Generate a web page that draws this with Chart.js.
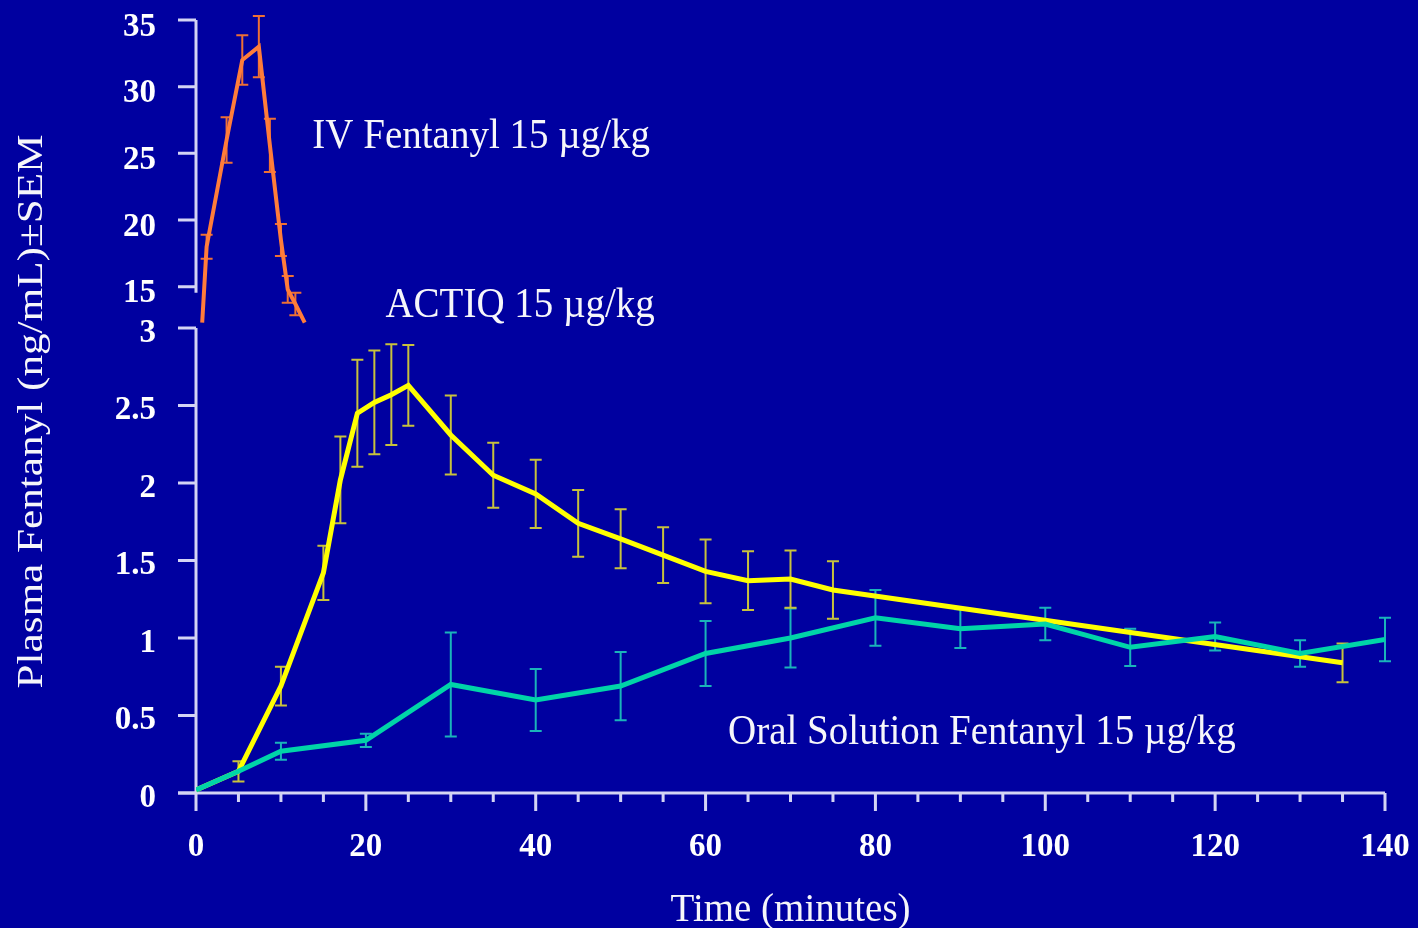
<!DOCTYPE html>
<html>
<head>
<meta charset="utf-8">
<title>Plasma Fentanyl</title>
<script src="https://cdn.jsdelivr.net/npm/chart.js@4.4.1/dist/chart.umd.min.js"></script>
<style>
  html, body { margin: 0; padding: 0; background: #0000A0; }
  #wrap { width: 1418px; height: 928px; }
</style>
</head>
<body>
<div id="wrap"><canvas id="PkChart"></canvas></div>
<script>
const SERIF = "'Liberation Serif', 'Times New Roman', serif";

// IV Fentanyl 15 ug/kg (upper, broken part of the axis)
const ivTime = [0.73, 1.25, 3.6, 5.45, 7.4, 8.7, 10.0, 10.8, 11.7, 12.8];
const ivConc = [12.3, 18.0, 26.0, 32.0, 33.0, 25.6, 18.5, 14.8, 13.7, 12.3];
const ivSem  = [null, 0.9, 1.7, 1.85, 2.3, 2.0, 1.2, 1.0, 0.85, null];

// ACTIQ 15 ug/kg
const actiqTime = [0, 5, 10, 15, 17, 19, 21, 23, 25, 30, 35, 40, 45, 50, 55, 60, 65, 70, 75, 135];
const actiqConc = [0.02, 0.14, 0.69, 1.42, 2.02, 2.45, 2.52, 2.57, 2.63, 2.31, 2.05, 1.93, 1.74, 1.64, 1.535, 1.43, 1.37, 1.38, 1.31, 0.84];
const actiqSem  = [null, 0.065, 0.125, 0.175, 0.28, 0.345, 0.335, 0.325, 0.26, 0.255, 0.21, 0.22, 0.215, 0.19, 0.18, 0.205, 0.19, 0.185, 0.185, 0.125];

// Oral Solution Fentanyl 15 ug/kg
const oralTime = [0, 5, 10, 20, 30, 40, 50, 60, 70, 80, 90, 100, 110, 120, 130, 140];
const oralConc = [0.02, 0.14, 0.27, 0.34, 0.70, 0.60, 0.69, 0.90, 1.00, 1.13, 1.06, 1.09, 0.94, 1.01, 0.90, 0.99];
const oralSem  = [null, null, 0.055, 0.043, 0.335, 0.20, 0.22, 0.21, 0.19, 0.18, 0.125, 0.105, 0.12, 0.09, 0.085, 0.14];

const xTicks = [0, 20, 40, 60, 80, 100, 120, 140];
const xMinorTicks = [5, 10, 15, 25, 30, 35, 45, 50, 55, 65, 70, 75, 85, 90, 95, 105, 110, 115, 125, 130, 135];
const yLowTicks = [0, 0.5, 1, 1.5, 2, 2.5, 3];
const yHighTicks = [15, 20, 25, 30, 35];

const xTitle = 'Time (minutes)';
const yTitle = 'Plasma Fentanyl (ng/mL)\u00B1SEM';
const ivLabel = 'IV Fentanyl 15 \u00B5g/kg';
const actiqLabel = 'ACTIQ 15 \u00B5g/kg';
const oralLabel = 'Oral Solution Fentanyl 15 \u00B5g/kg';

const BG_COLOR = '#0000A0';
const AXIS_COLOR = '#D4D4F4';
const TEXT_COLOR = '#F6F6FA';

function ToPoints(times, values)
{
    var points = [];
    for (let i = 0; i < times.length; i++)
    {
        points[i] = { x: times[i], y: values[i] };
    }
    return points;
}

function SetTicks(values)
{
    return function (scale) {
        scale.ticks = values.map(v => ({ value: v }));
    };
}

// fixed box sizes, no extra padding for labels hanging over the ends
function FixWidth(w)
{
    return function (scale) {
        scale.width = w;
        scale.paddingTop = 0;
        scale.paddingBottom = 0;
    };
}

function FixHeight(h)
{
    return function (scale) {
        scale.height = h;
        scale.paddingLeft = 0;
        scale.paddingRight = 0;
    };
}

// background
const BackgroundPlugin = {
    id: 'background',
    beforeDraw(chart) {
        const ctx = chart.ctx;
        ctx.save();
        ctx.fillStyle = BG_COLOR;
        ctx.fillRect(0, 0, chart.width, chart.height);
        ctx.restore();
    }
};

// broken y axis + x axis with long/short tick marks
const AxesPlugin = {
    id: 'axes',
    beforeDatasetsDraw(chart) {
        const ctx = chart.ctx;
        const xs = chart.scales.x;
        const yLow = chart.scales.y;
        const yHigh = chart.scales.yTop;
        const left = chart.chartArea.left;
        const y0 = yLow.getPixelForValue(0);

        ctx.save();
        ctx.strokeStyle = AXIS_COLOR;
        ctx.lineWidth = 3;
        ctx.lineCap = 'butt';

        // x axis line
        ctx.beginPath();
        ctx.moveTo(left - 18, y0);
        ctx.lineTo(xs.getPixelForValue(140), y0);
        ctx.stroke();

        ctx.beginPath();
        xTicks.forEach(v => {
            const px = xs.getPixelForValue(v);
            ctx.moveTo(px, y0);
            ctx.lineTo(px, y0 + 18);
        });
        xMinorTicks.forEach(v => {
            const px = xs.getPixelForValue(v);
            ctx.moveTo(px, y0);
            ctx.lineTo(px, y0 + 9);
        });
        ctx.stroke();

        // lower y axis
        ctx.beginPath();
        ctx.moveTo(left, y0);
        ctx.lineTo(left, yLow.getPixelForValue(3));
        yLowTicks.forEach(v => {
            const py = yLow.getPixelForValue(v);
            ctx.moveTo(left, py);
            ctx.lineTo(left - 18, py);
        });
        ctx.stroke();

        // upper y axis
        ctx.beginPath();
        ctx.moveTo(left, yHigh.getPixelForValue(15) + 6);
        ctx.lineTo(left, yHigh.getPixelForValue(35));
        yHighTicks.forEach(v => {
            const py = yHigh.getPixelForValue(v);
            ctx.moveTo(left, py);
            ctx.lineTo(left - 18, py);
        });
        ctx.stroke();
        ctx.restore();
    }
};

const ErrorBarPlugin = {
    id: 'errorBars',
    beforeDatasetsDraw(chart) {
        const ctx = chart.ctx;
        chart.data.datasets.forEach((ds, i) => {
            const meta = chart.getDatasetMeta(i);
            const xs = meta.xScale;
            const ys = meta.yScale;
            ctx.save();
            ctx.strokeStyle = ds.errorColor;
            ctx.lineWidth = 2;
            ds.data.forEach((p, j) => {
                const e = ds.sem[j];
                if (e == null) return;
                const px = xs.getPixelForValue(p.x);
                const top = ys.getPixelForValue(p.y + e);
                const bot = ys.getPixelForValue(p.y - e);
                ctx.beginPath();
                ctx.moveTo(px, top);
                ctx.lineTo(px, bot);
                ctx.moveTo(px - 6, top);
                ctx.lineTo(px + 6, top);
                ctx.moveTo(px - 6, bot);
                ctx.lineTo(px + 6, bot);
                ctx.stroke();
            });
            ctx.restore();
        });
    }
};

function DrawText(ctx, text, x, y, size, sx, sy, rotate)
{
    ctx.save();
    ctx.translate(x, y);
    if (rotate) ctx.rotate(rotate);
    ctx.scale(sx, sy);
    ctx.font = size + 'px ' + SERIF;
    ctx.fillStyle = TEXT_COLOR;
    ctx.textBaseline = 'alphabetic';
    ctx.textAlign = 'left';
    ctx.fillText(text, 0, 0);
    ctx.restore();
}

// series labels and axis titles
const LabelsPlugin = {
    id: 'labels',
    afterDraw(chart) {
        const ctx = chart.ctx;
        const xs = chart.scales.x;
        const yLow = chart.scales.y;
        const yHigh = chart.scales.yTop;
        const area = chart.chartArea;

        DrawText(ctx, ivLabel, xs.getPixelForValue(13.7), yHigh.getPixelForValue(25.4), 39, 1, 1.1);
        DrawText(ctx, actiqLabel, xs.getPixelForValue(22.3), yHigh.getPixelForValue(12.75), 39, 1, 1.1);
        DrawText(ctx, oralLabel, xs.getPixelForValue(62.65), yLow.getPixelForValue(0.316), 39, 1, 1.1);

        // x title
        ctx.save();
        ctx.font = '39px ' + SERIF;
        const w = ctx.measureText(xTitle).width;
        ctx.restore();
        DrawText(ctx, xTitle, (area.left + area.right) / 2 - w / 2, 921, 39, 1, 1);

        // y title, rotated
        ctx.save();
        ctx.font = '36px ' + SERIF;
        const wy = ctx.measureText(yTitle).width * 1.2;
        ctx.restore();
        DrawText(ctx, yTitle, 42, (area.top + area.bottom) / 2 + 5 + wy / 2, 36, 1.2, 1, -Math.PI / 2);
    }
};

const TickFont = { family: SERIF, size: 33, weight: 'bold' };
const PlainLabel = (v) => String(v);

const ChartData = {
    datasets: [
        {
            label: ivLabel,
            data: ToPoints(ivTime, ivConc),
            sem: ivSem,
            yAxisID: 'yTop',
            borderColor: '#FF7C3A',
            errorColor: '#EE7034',
            borderWidth: 4,
            pointRadius: 0,
            tension: 0
        },
        {
            label: oralLabel,
            data: ToPoints(oralTime, oralConc),
            sem: oralSem,
            yAxisID: 'y',
            borderColor: '#00D4A8',
            errorColor: '#1AB4BA',
            borderWidth: 5,
            pointRadius: 0,
            tension: 0
        },
        {
            label: actiqLabel,
            data: ToPoints(actiqTime, actiqConc),
            sem: actiqSem,
            yAxisID: 'y',
            borderColor: '#FFFF00',
            errorColor: '#C8C23C',
            borderWidth: 5,
            pointRadius: 0,
            tension: 0
        }
    ]
};

const ChartOption = {
    responsive: true,
    maintainAspectRatio: false,
    animation: false,
    layout: { padding: { top: 20, right: 33, bottom: 0, left: 0 } },
    plugins: {
        legend: { display: false },
        tooltip: { enabled: false }
    },
    scales: {
        x: {
            type: 'linear',
            min: 0,
            max: 140,
            afterBuildTicks: SetTicks(xTicks),
            afterFit: FixHeight(135),
            grid: { display: false, drawTicks: false },
            border: { display: false },
            ticks: { color: '#FFFFFF', font: TickFont, padding: 35, autoSkip: false, maxRotation: 0, callback: PlainLabel }
        },
        y: {
            type: 'linear',
            position: 'left',
            min: 0,
            max: 3,
            stack: 'conc',
            stackWeight: 465,
            afterBuildTicks: SetTicks(yLowTicks),
            afterFit: FixWidth(196),
            grid: { display: false, drawTicks: false },
            border: { display: false },
            ticks: { color: '#FFFFFF', font: TickFont, padding: 40, labelOffset: 5, callback: PlainLabel }
        },
        yTop: {
            type: 'linear',
            position: 'left',
            min: 11.9,
            max: 35,
            stack: 'conc',
            stackWeight: 308,
            afterBuildTicks: SetTicks(yHighTicks),
            afterFit: FixWidth(196),
            grid: { display: false, drawTicks: false },
            border: { display: false },
            ticks: { color: '#FFFFFF', font: TickFont, padding: 40, labelOffset: 7, callback: PlainLabel }
        }
    }
};

const PkChart = new Chart(document.getElementById('PkChart'), {
    type: 'line',
    data: ChartData,
    options: ChartOption,
    plugins: [BackgroundPlugin, AxesPlugin, ErrorBarPlugin, LabelsPlugin]
});
</script>
</body>
</html>
